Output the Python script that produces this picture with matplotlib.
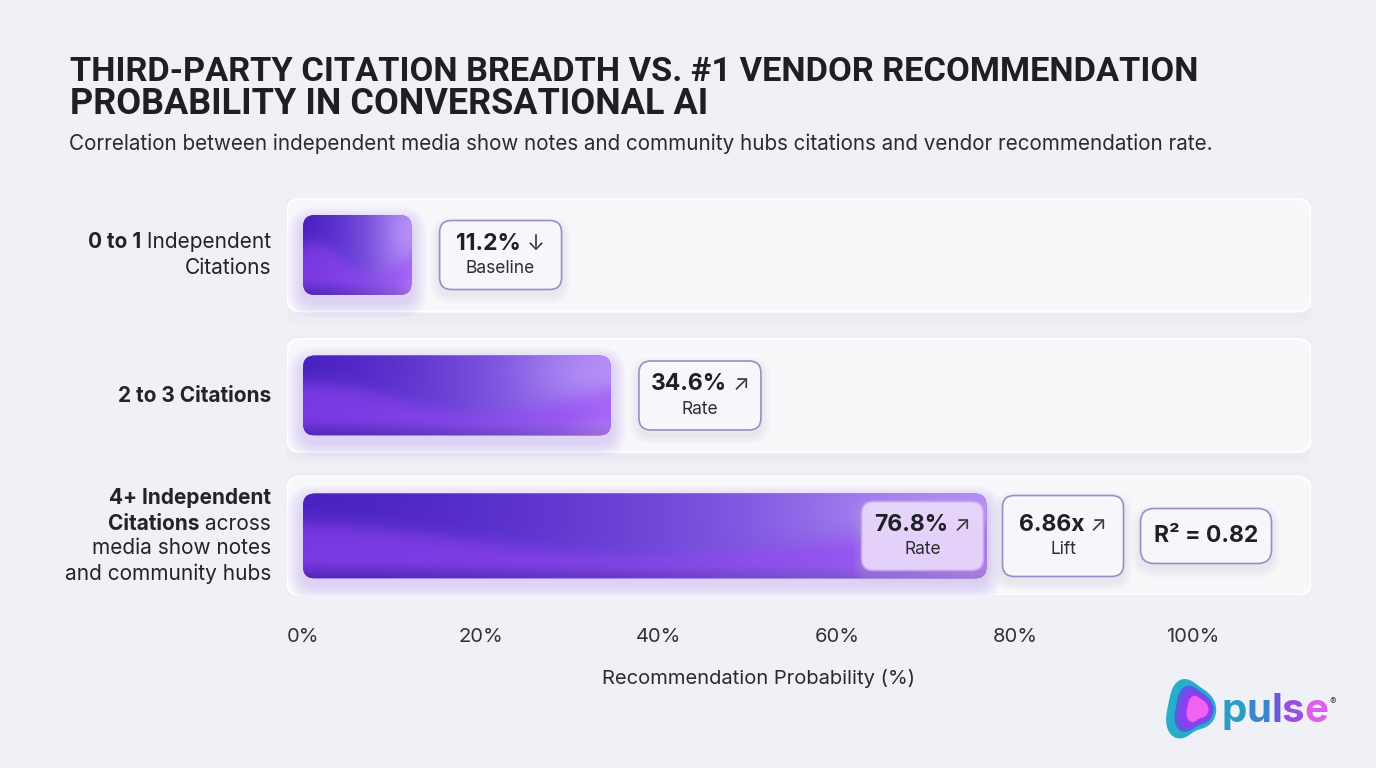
import matplotlib
matplotlib.use("Agg")
import matplotlib.pyplot as plt
import numpy as np
from matplotlib.patches import FancyBboxPatch, Polygon
from matplotlib.colors import to_rgb
from matplotlib.transforms import IdentityTransform

# ---- data ----
label_runs = [
    [[("0 to 1", "bold"), (" Independent", "normal")], [("Citations", "normal")]],
    [[("2 to 3 Citations", "bold")]],
    [[("4+ Independent", "bold")], [("Citations", "bold"), (" across", "normal")],
     [("media show notes", "normal")], [("and community hubs", "normal")]],
]
rates = [11.2, 34.6, 76.8]
arrows = ["\u2193", "\u2197", "\u2197"]
box_subs = ["Baseline", "Rate", "Rate"]
lift = 6.86
r_squared = 0.82
ticks = [0, 20, 40, 60, 80, 100]
tick_labels = ["0%", "20%", "40%", "60%", "80%", "100%"]

title_lines = ["THIRD-PARTY CITATION BREADTH VS. #1 VENDOR RECOMMENDATION",
               "PROBABILITY IN CONVERSATIONAL AI"]
subtitle = ("Correlation between independent media show notes and community hubs "
            "citations and vendor recommendation rate.")

FONT = ["Inter", "DejaVu Sans"]
TITLE_FONT = ["Roboto", "DejaVu Sans"]
plt.rcParams["font.family"] = FONT

W, H = 1376, 768
SX = 8.9     # px per percent
SY = 140.5   # px per row
M = SX / SY  # mutation aspect for round corners

fig = plt.figure(figsize=(W / 100, H / 100), dpi=100)
fig.patch.set_facecolor("#eff1f6")
renderer = fig.canvas.get_renderer()

ax = fig.add_axes([287 / W, 1 - 595 / H, 1024 / W, 397 / H])
ax.set_facecolor("none")
XL = (-16 / SX, 1008 / SX)
YL = ((595 - 255) / SY, -(255 - 198) / SY)
ax.set_xlim(*XL)
ax.set_ylim(*YL)
for s in ax.spines.values():
    s.set_visible(False)
ax.set_yticks([])


def rbox(x0, y0, w, h, r_px, **kw):
    p = FancyBboxPatch((x0, y0), w, h,
                       boxstyle=f"round,pad=0,rounding_size={r_px / SX}",
                       mutation_aspect=M, **kw)
    ax.add_patch(p)
    return p


def soft_shadow(x0, y0, w, h, r_px, color, n=7, spread=2.0, alpha=0.035, dy_px=5, z=1):
    for k in range(n, 0, -1):
        g = k * spread
        rbox(x0 - g / SX, y0 - g / SY + dy_px / SY, w + 2 * g / SX, h + 2 * g / SY,
             r_px + g, facecolor=color, edgecolor="none", alpha=alpha, zorder=z)


def bar_texture(n=120, m=420, phase=1.2):
    u = np.linspace(0, 1, m)[None, :]
    v = np.linspace(0, 1, n)[:, None]
    c0 = np.array(to_rgb("#4a22c0"))
    c1 = np.array(to_rgb("#5e34d6"))
    c2 = np.array(to_rgb("#b28af6"))
    t = u ** 1.8
    base = (c0[None, None, :] * (1 - u[..., None]) + c1[None, None, :] * u[..., None])
    base = base * (1 - t[..., None]) + c2[None, None, :] * t[..., None]
    base = np.broadcast_to(base, (n, m, 3)).copy()
    wave = 0.55 - 0.2 * np.sin(2 * np.pi * (u * 0.9) + phase)
    band = 1 / (1 + np.exp(-(v - wave) / 0.06))
    band = band * (1 - 0.55 * np.clip((v - 0.78) / 0.22, 0, 1))
    bright = np.array(to_rgb("#9446f4"))
    a = 0.65 * band[..., None]
    img = base * (1 - a) + bright[None, None, :] * a
    # soft highlight at the upper right
    hl = np.exp(-((u - 0.9) ** 2) / 0.03) * np.exp(-((v - 0.2) ** 2) / 0.1)
    img = img * (1 - 0.3 * hl[..., None]) + np.array(to_rgb("#c8a8fb")) * 0.3 * hl[..., None]
    # pinkish tint at the right end, darker at the very bottom
    pk = np.clip((u - 0.85) / 0.15, 0, 1) * np.clip((v - 0.4) / 0.6, 0, 1)
    img = img * (1 - 0.35 * pk[..., None]) + np.array(to_rgb("#cf8cf6")) * 0.35 * pk[..., None]
    img = img * (1 - 0.12 * np.clip((v - 0.85) / 0.15, 0, 1))[..., None]
    return np.clip(img, 0, 1)


def centered_runs(xc, yc, runs, z=8):
    # runs: (text, size, weight, color); placed centred on display point (xc, yc)
    ts = []
    for text, size, weight, color in runs:
        ts.append(fig.text(0, yc, text, transform=IdentityTransform(), ha="left",
                           va="center", fontsize=size, fontweight=weight, color=color,
                           zorder=z))
    widths = [t.get_window_extent(renderer).width for t in ts]
    x = xc - sum(widths) / 2
    for t, w in zip(ts, widths):
        t.set_x(x)
        x += w


def value_label(xd, yd, value_txt, arrow, sub, single=False):
    xc, yc = ax.transData.transform((xd, yd))
    if single:
        centered_runs(xc, yc, [(value_txt, 16.5, "bold", "#1f2024")])
        return
    centered_runs(xc, yc + 11, [(value_txt, 16.5, "bold", "#1f2024"),
                                (" " + arrow, 15.5, "normal", "#3a3b40")])
    centered_runs(xc, yc - 13.5, [(sub, 12.5, "normal", "#2c2d33")])


panel_h = [113 / SY, 113 / SY, 119 / SY]
bar_h = [80 / SY, 80 / SY, 85 / SY]
pan_x0, pan_w = XL[0], XL[1] - XL[0]

for i, v in enumerate(rates):
    ph = panel_h[i]
    soft_shadow(pan_x0, i - ph / 2, pan_w, ph, 14, "#c9cddb", n=5, spread=2.2, alpha=0.02, dy_px=4, z=1)
    rbox(pan_x0, i - ph / 2, pan_w, ph, 14, facecolor="#f8f8fb", edgecolor="#ffffff",
         linewidth=1.5, zorder=2)

    bh = bar_h[i]
    blen = max(v, 12.2)
    soft_shadow(0, i - bh / 2, blen, bh, 12, "#9a70f0", n=7, spread=2.2, alpha=0.04, dy_px=7, z=3)
    clip = rbox(0, i - bh / 2, blen, bh, 12, facecolor="#6a3ae0", edgecolor="none", zorder=4)
    im = ax.imshow(bar_texture(phase=1.0 + 0.4 * i), extent=(0, blen, i + bh / 2, i - bh / 2),
                   aspect="auto", interpolation="bicubic", zorder=5)
    im.set_clip_path(clip)

    bw, bbh = 122 / SX, 69 / SY
    if i < 2:
        bx0 = blen + 28 / SX
        fc, ec, al = "#f7f6fb", "#9c8cc8", 1.0
    else:
        bx0 = blen - 3 / SX - bw
        fc, ec, al = "#ead9fc", "#c3a6f0", 0.93
    soft_shadow(bx0, i - bbh / 2, bw, bbh, 12, "#b9b6cc", n=5, spread=1.8, alpha=0.05, dy_px=5, z=6)
    rbox(bx0, i - bbh / 2, bw, bbh, 12, facecolor=fc, edgecolor=ec, linewidth=1.2, alpha=al, zorder=7)
    value_label(bx0 + bw / 2, i, f"{v:.1f}%", arrows[i], box_subs[i])

# lift and R^2 boxes on the last row
i = 2
blen = rates[i]
lx0, lw, lh = blen + 16 / SX, 121 / SX, 81 / SY
soft_shadow(lx0, i - lh / 2, lw, lh, 12, "#b9b6cc", n=5, spread=1.8, alpha=0.05, dy_px=5, z=6)
rbox(lx0, i - lh / 2, lw, lh, 12, facecolor="#f7f6fb", edgecolor="#9c8cc8", linewidth=1.2, zorder=7)
value_label(lx0 + lw / 2, i, f"{lift:.2f}x", "\u2197", "Lift")

rx0, rw, rh = blen + 154 / SX, 131 / SX, 55 / SY
soft_shadow(rx0, i - rh / 2, rw, rh, 14, "#b9b6cc", n=5, spread=1.8, alpha=0.05, dy_px=5, z=6)
rbox(rx0, i - rh / 2, rw, rh, 14, facecolor="#f7f6fb", edgecolor="#9c8cc8", linewidth=1.2, zorder=7)
value_label(rx0 + rw / 2, i, f"R\u00b2 = {r_squared:.2f}", "", "", single=True)

# axis ticks and label
ax.set_xticks(ticks, tick_labels)
ax.tick_params(axis="x", length=0, pad=24, labelsize=14.5, labelcolor="#303238")
ax.set_xlabel("Recommendation Probability (%)", fontsize=14.5, color="#2a2b30")
ax.xaxis.set_label_coords((758 - 287) / 1024, -(669 - 595) / 397)
ax.xaxis.label.set_va("top")


def fit_text(x_px, y_px, text, width_px, size, **kw):
    t = fig.text(x_px, H - y_px, text, transform=IdentityTransform(), fontsize=size,
                 va="center", **kw)
    w = t.get_window_extent(renderer).width
    t.set_fontsize(size * width_px / w)
    return t


fit_text(70, 72, title_lines[0], 1130, 26, fontweight="bold", color="#1e1f23", family=TITLE_FONT)
fit_text(70, 104, title_lines[1], 638, 26, fontweight="bold", color="#1e1f23", family=TITLE_FONT)
fit_text(69, 144, subtitle, 1146, 15, color="#2a2b30")

# category labels with mixed weights, right aligned
x_right = 271


def put_runs(x_r, y_px, runs, size=15, color="#23242a"):
    x = x_r
    for text, weight in reversed(runs):
        t = fig.text(x, y_px, text, transform=IdentityTransform(), ha="right", va="center",
                     fontsize=size, fontweight=weight, color=color)
        x = t.get_window_extent(renderer).x0


for i, lines in enumerate(label_runs):
    yc = ax.transData.transform((0, i))[1]
    n = len(lines)
    for k, runs in enumerate(lines):
        put_runs(x_right, yc + (n - 1) * 12.5 - k * 25, runs)

# logo
lax = fig.add_axes([1158 / W, 1 - 746 / H, 62 / W, 74 / H])
lax.set_xlim(-1.15, 1.15)
lax.set_ylim(-1.35, 1.35)
lax.set_aspect("equal")
lax.axis("off")
th = np.linspace(0, 2 * np.pi, 200)


def blob(scale, dx, color):
    r = scale * (1 + 0.13 * np.cos(3 * th + 0.4) + 0.08 * np.cos(2 * th - 0.6))
    lax.add_patch(Polygon(np.c_[0.85 * r * np.cos(th) + dx, 1.1 * r * np.sin(th)],
                          closed=True, facecolor=color, edgecolor="none"))


blob(1.0, 0.0, "#27aecb")
blob(0.78, 0.12, "#5a5ce2")
blob(0.64, 0.2, "#8b3ff0")
blob(0.44, 0.28, "#f262f0")

letters = [("p", "#2a9dc6"), ("u", "#3a86cc"), ("l", "#6a5ad8"), ("s", "#9b4ee2"), ("e", "#df5fe8")]
x = 1222
for ch, col in letters:
    t = fig.text(x, H - 711, ch, transform=IdentityTransform(), ha="left", va="center",
                 fontsize=29, fontweight="bold", color=col)
    x = t.get_window_extent(renderer).x1 - 0.5
fig.text(x + 2, H - 702, "\u00ae", transform=IdentityTransform(), ha="left", va="center",
         fontsize=7, color="#444")

fig.savefig("out.png", dpi=100, facecolor=fig.get_facecolor())
